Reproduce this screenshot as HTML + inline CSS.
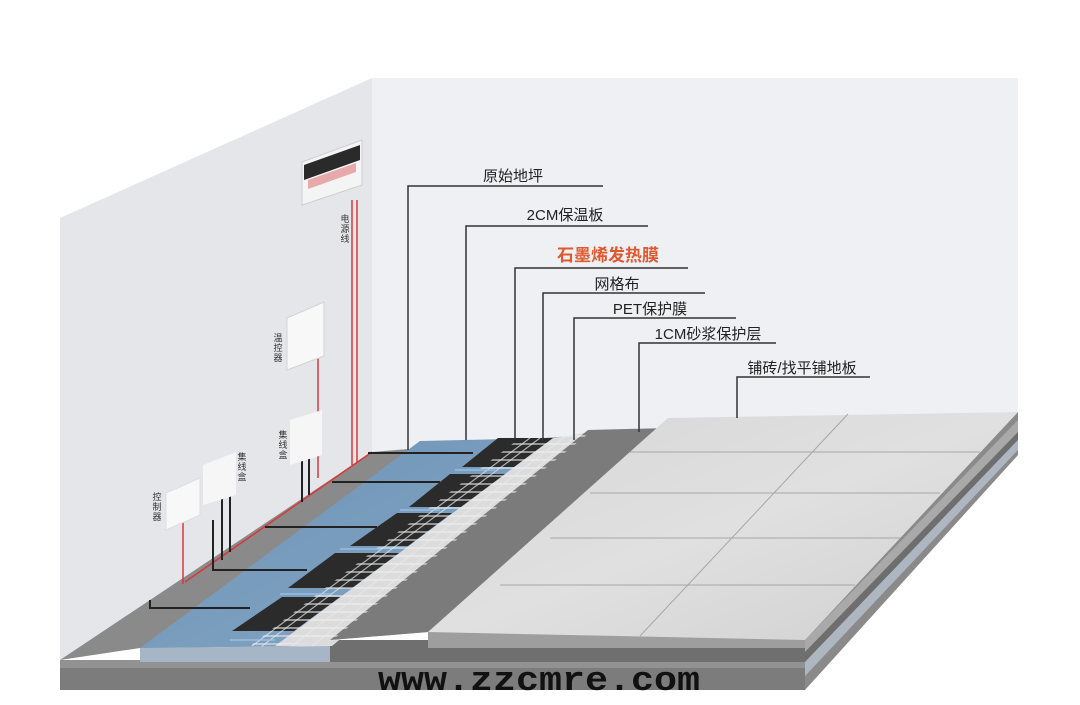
<!DOCTYPE html>
<html><head><meta charset="utf-8"><style>
html,body{margin:0;padding:0;background:#fff;}
svg{display:block;font-family:"Liberation Sans","Noto Sans CJK SC",sans-serif;}
</style></head><body>
<svg width="1080" height="705" viewBox="0 0 1080 705" xmlns="http://www.w3.org/2000/svg">
<defs>
<pattern id="hl" width="20" height="8" patternUnits="userSpaceOnUse">
<rect width="20" height="8" fill="none"/><line x1="0" y1="4" x2="20" y2="4" stroke="#f2f2f2" stroke-width="1.6"/>
</pattern>
<linearGradient id="bl" x1="0" y1="0" x2="1" y2="1"><stop offset="0" stop-color="#6c92b6"/><stop offset="1" stop-color="#86a7c4"/></linearGradient>
<linearGradient id="tile" x1="0" y1="0" x2="1" y2="1"><stop offset="0" stop-color="#d6d6d6"/><stop offset="0.5" stop-color="#e0e0e0"/><stop offset="1" stop-color="#cfcfcf"/></linearGradient>
</defs>
<rect width="1080" height="705" fill="#fff"/>
<!-- walls -->
<polygon points="372,78 1018,78 1018,414 372,452" fill="#eef0f4"/>
<polygon points="60,218 372,78 372,452 60,662" fill="#e4e6e9"/>
<!-- slab front / side -->
<polygon points="60,660 805,660 805,690 60,690" fill="#7c7c7c"/>
<polygon points="60,660 805,660 805,668 60,668" fill="#929292"/>
<polygon points="140,648 330,646 330,662 140,662" fill="#a7b6c6"/>
<polygon points="330,640 805,640 805,662 330,662" fill="#6f6f6f"/>
<polygon points="428,632 805,632 805,648 428,648" fill="#9e9e9e"/>
<polygon points="805,632 1018,412 1018,455 805,690" fill="#8a8a8a"/>
<polygon points="805,640 1018,420 1018,432 805,652" fill="#a9a9a9"/>
<polygon points="805,652 1018,432 1018,440 805,662" fill="#6e6e6e"/>
<polygon points="805,662 1018,440 1018,450 805,676" fill="#aeb7c1"/>
<!-- floor top -->
<polygon points="372,452 668,428 428,632 330,640 300,646 140,648 60,660" fill="#8a8a8a"/>
<polygon points="420,441 553,438 300,646 140,648" fill="url(#bl)"/>
<polygon points="553,438 590,432 332,646 275,646" fill="#dcdcdc"/>
<polygon points="588,430 668,428 428,632 330,640" fill="#7b7b7b"/>
<!-- films -->
<polygon points="498,438 553,438 514,467 462,467" fill="#2b2b2b"/>
<polygon points="450,474 505,474 461,507 409,507" fill="#2b2b2b"/>
<polygon points="397,513 452,513 408,546 350,546" fill="#2b2b2b"/>
<polygon points="335,553 399,553 352,588 288,588" fill="#2b2b2b"/>
<polygon points="282,597 340,597 294,631 232,631" fill="#2b2b2b"/>
<!-- mesh -->
<polygon points="520,438 588,434 330,642 250,646" fill="url(#hl)" opacity="0.7"/>
<g stroke="#e8e8e8" stroke-width="1.2" opacity="0.7">
<line x1="540" y1="438" x2="262" y2="646"/><line x1="530" y1="438" x2="252" y2="646"/>
<line x1="566" y1="436" x2="292" y2="646"/><line x1="578" y1="435" x2="312" y2="646"/>
</g>
<g stroke="#9fc3e8" stroke-width="1.2"><line x1="230" y1="640" x2="275" y2="640"/><line x1="280" y1="594" x2="330" y2="594"/><line x1="340" y1="549" x2="380" y2="549"/><line x1="400" y1="510" x2="440" y2="510"/><line x1="455" y1="470" x2="495" y2="470"/></g>
<!-- tiles -->
<polygon points="668,418 1018,412 805,640 428,632" fill="url(#tile)"/>
<g stroke="#9a9a9a" stroke-width="1" fill="none" opacity="0.8">
<line x1="630" y1="452" x2="980" y2="452"/>
<line x1="590" y1="493" x2="940" y2="493"/>
<line x1="550" y1="538" x2="900" y2="538"/>
<line x1="500" y1="585" x2="855" y2="585"/>
<line x1="848" y1="414" x2="640" y2="636"/>
</g>
<!-- red lines -->
<g stroke="#d8383a" stroke-width="1.5" fill="none">
<line x1="372" y1="452" x2="185" y2="582"/>
<line x1="352" y1="200" x2="352" y2="465"/><line x1="357" y1="200" x2="357" y2="462"/>
<line x1="318" y1="352" x2="318" y2="478"/>
<line x1="183" y1="515" x2="183" y2="584"/>
</g>
<!-- wires -->
<g stroke="#222" stroke-width="2" fill="none">
<polyline points="473,453 368,453"/>
<polyline points="440,482 332,482"/>
<polyline points="377,527 265,527"/>
<polyline points="307,570 213,570 213,520"/>
<polyline points="250,608 150,608 150,600"/>
<line x1="302" y1="445" x2="302" y2="502"/><line x1="309" y1="445" x2="309" y2="495"/>
<line x1="222" y1="492" x2="222" y2="560"/><line x1="230" y1="492" x2="230" y2="552"/>
</g>
<!-- wall devices -->
<polygon points="302,162 362,140 362,185 302,205" fill="#f4f4f4" stroke="#cfcfcf"/>
<polygon points="304,165 360,145 360,160 304,180" fill="#2a2a2a"/>
<polygon points="308,180 356,163 356,172 308,189" fill="#e7a9a9"/>
<polygon points="287,318 324,302 324,356 287,370" fill="#f8f8f8" stroke="#d4d4d4"/>
<polygon points="290,420 322,410 322,455 290,465" fill="#f6f6f6"/>
<polygon points="203,465 236,452 236,495 203,505" fill="#f6f6f6"/>
<polygon points="166,493 200,478 200,515 166,530" fill="#f8f8f8" stroke="#dedede"/>
<g font-size="9" fill="#333" text-anchor="middle">
<text x="345" y="222">电</text><text x="345" y="232">源</text><text x="345" y="242">线</text>
<text x="278" y="341">温</text><text x="278" y="351">控</text><text x="278" y="361">器</text>
<text x="283" y="438">集</text><text x="283" y="448">线</text><text x="283" y="458">盒</text>
<text x="242" y="460">集</text><text x="242" y="470">线</text><text x="242" y="480">盒</text>
<text x="157" y="500">控</text><text x="157" y="510">制</text><text x="157" y="520">器</text>
</g>
<!-- label leaders -->
<g stroke="#333" stroke-width="1.5" fill="none">
<polyline points="408,450 408,186 603,186"/>
<polyline points="466,440 466,226 648,226"/>
<polyline points="515,440 515,268 688,268"/>
<polyline points="543,440 543,293 705,293"/>
<polyline points="574,440 574,318 736,318"/>
<polyline points="639,432 639,343 776,343"/>
<polyline points="737,418 737,377 870,377"/>
</g>
<g font-size="15" fill="#222" text-anchor="middle">
<text x="513" y="181">原始地坪</text>
<text x="565" y="220">2CM保温板</text>
<text x="608" y="261" font-size="17" font-weight="bold" fill="#e0582e">石墨烯发热膜</text>
<text x="617" y="289">网格布</text>
<text x="650" y="314">PET保护膜</text>
<text x="708" y="339">1CM砂浆保护层</text>
<text x="802" y="373">铺砖/找平铺地板</text>
</g>
<text x="378" y="690" font-family="Liberation Mono, monospace" font-weight="bold" font-size="34" fill="#111" textLength="322" lengthAdjust="spacingAndGlyphs">www.zzcmre.com</text>
</svg>
</body></html>
